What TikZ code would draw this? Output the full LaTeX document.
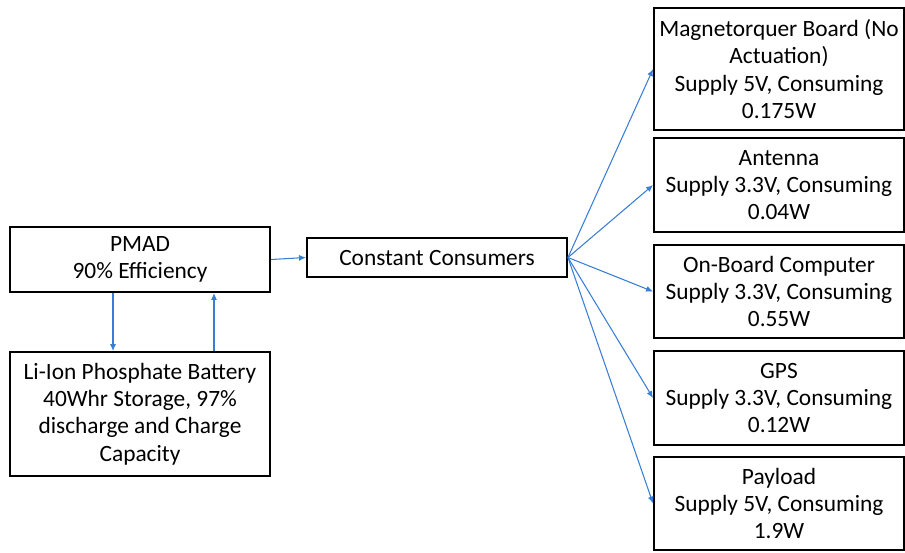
\documentclass[tikz,border=0pt]{standalone}
\usepackage{fontspec}
\setmainfont{Carlito}
\usepackage{tikz}
\usetikzlibrary{arrows.meta, positioning}
\definecolor{flowBlue}{RGB}{58,125,213}
\tikzset{
    powerBox/.style={
        rectangle,
        draw=black,
        fill=white,
        line width=1.1pt,
        inner sep=0pt,
        align=center,
        font=\fontsize{13.3pt}{15.6pt}\selectfont
    },
    loadBox/.style={
        powerBox,
        minimum width=5cm
    },
    flowLine/.style={
        draw=flowBlue,
        line width=0.6pt,
        -{Latex[length=1.4mm, width=1.2mm]}
    }
}

\begin{document}
\begin{tikzpicture}[x=0.02cm, y=-0.02cm]
            \useasboundingbox (0,0) rectangle (905,552);

            % Source side
            \node[powerBox, minimum width=5.2cm, minimum height=1.3cm] (PMAD) at (140,259.5)
                {PMAD\\90\% Efficiency};
            \node[powerBox, minimum width=5.2cm, minimum height=2.48cm] (Battery) at (140,414)
                {Li-Ion Phosphate Battery\\40Whr Storage, 97\%\\discharge and Charge\\Capacity};
            \node[powerBox, minimum width=5.2cm, minimum height=0.78cm] (Consumers) at (437,257.5)
                {Constant Consumers};

            % Loads
            \node[loadBox, minimum height=2.44cm] (Magnetorquer) at (779,69)
                {Magnetorquer Board (No\\Actuation)\\Supply 5V, Consuming\\0.175W};
            \node[loadBox, minimum height=1.88cm] (Antenna) at (779,185)
                {Antenna\\Supply 3.3V, Consuming\\0.04W};
            \node[loadBox, minimum height=1.86cm] (OBC) at (779,291.5)
                {On-Board Computer\\Supply 3.3V, Consuming\\0.55W};
            \node[loadBox, minimum height=1.88cm] (GPS) at (779,398)
                {GPS\\Supply 3.3V, Consuming\\0.12W};
            \node[loadBox, minimum height=1.86cm] (Payload) at (779,503.5)
                {Payload\\Supply 5V, Consuming\\1.9W};

            % Power flow
            \draw[flowLine] (PMAD.east) -- (Consumers.west);
            \draw[flowLine] ([xshift=-0.54cm]PMAD.south) -- ([xshift=-0.54cm]Battery.north);
            \draw[flowLine] ([xshift=1.48cm]Battery.north) -- ([xshift=1.48cm]PMAD.south);
            \foreach \load in {Magnetorquer, Antenna, OBC, GPS, Payload}
                \draw[flowLine] (Consumers.east) -- (\load.west);
        \end{tikzpicture}
\end{document}
